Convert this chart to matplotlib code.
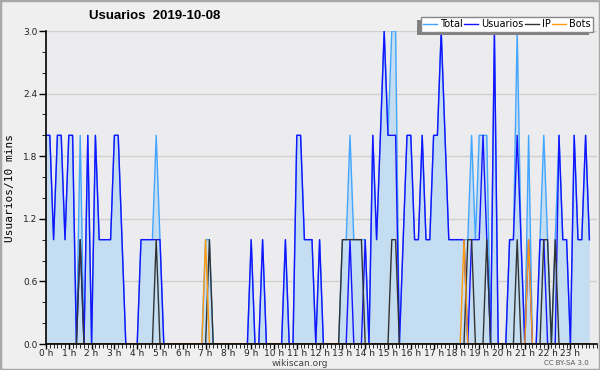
import matplotlib

matplotlib.use("Agg")

import matplotlib.pyplot as plt
from matplotlib.patches import Rectangle
from matplotlib.ticker import MultipleLocator

# one value per 10-minute slot, 144 slots for the day
usuarios = [
    2, 2, 1, 2, 2, 1, 2, 2, 0, 1, 0, 2, 0, 2, 1, 1, 1, 1, 2, 2, 1, 0, 0, 0,
    0, 1, 1, 1, 1, 1, 1, 0, 0, 0, 0, 0, 0, 0, 0, 0, 0, 0, 0, 0, 0, 0, 0, 0,
    0, 0, 0, 0, 0, 0, 1, 0, 0, 1, 0, 0, 0, 0, 0, 1, 0, 0, 2, 2, 1, 1, 1, 0,
    1, 0, 0, 0, 0, 0, 0, 0, 1, 0, 0, 0, 1, 0, 2, 1, 2, 3, 2, 2, 2, 0, 1, 2,
    2, 1, 1, 2, 1, 1, 2, 2, 3, 2, 1, 1, 1, 1, 1, 0, 1, 1, 1, 2, 1, 0, 3, 0,
    0, 0, 1, 1, 2, 1, 0, 1, 0, 0, 1, 1, 0, 0, 0, 2, 1, 1, 0, 2, 1, 1, 2, 1,
]
ip = [
    0, 0, 0, 0, 0, 0, 0, 0, 0, 1, 0, 0, 0, 0, 0, 0, 0, 0, 0, 0, 0, 0, 0, 0,
    0, 0, 0, 0, 0, 1, 0, 0, 0, 0, 0, 0, 0, 0, 0, 0, 0, 0, 0, 1, 0, 0, 0, 0,
    0, 0, 0, 0, 0, 0, 0, 0, 0, 0, 0, 0, 0, 0, 0, 0, 0, 0, 0, 0, 0, 0, 0, 0,
    0, 0, 0, 0, 0, 0, 1, 1, 1, 1, 1, 1, 0, 0, 0, 0, 0, 0, 0, 1, 1, 0, 0, 0,
    0, 0, 0, 0, 0, 0, 0, 0, 0, 0, 0, 0, 0, 0, 0, 1, 1, 0, 0, 0, 1, 0, 0, 0,
    0, 0, 0, 0, 1, 0, 0, 0, 0, 0, 0, 1, 1, 0, 1, 0, 0, 0, 0, 0, 0, 0, 0, 0,
]
bots = [
    0, 0, 0, 0, 0, 0, 0, 0, 0, 0, 0, 0, 0, 0, 0, 0, 0, 0, 0, 0, 0, 0, 0, 0,
    0, 0, 0, 0, 0, 0, 0, 0, 0, 0, 0, 0, 0, 0, 0, 0, 0, 0, 1, 0, 0, 0, 0, 0,
    0, 0, 0, 0, 0, 0, 0, 0, 0, 0, 0, 0, 0, 0, 0, 0, 0, 0, 0, 0, 0, 0, 0, 0,
    0, 0, 0, 0, 0, 0, 0, 0, 0, 0, 0, 0, 0, 0, 0, 0, 0, 0, 0, 0, 0, 0, 0, 0,
    0, 0, 0, 0, 0, 0, 0, 0, 0, 0, 0, 0, 0, 0, 1, 0, 0, 0, 0, 0, 0, 0, 0, 0,
    0, 0, 0, 0, 0, 0, 0, 1, 0, 0, 0, 0, 0, 0, 0, 0, 0, 0, 0, 0, 0, 0, 0, 0,
]
total = [
    2, 2, 1, 2, 2, 1, 2, 2, 0, 2, 0, 2, 0, 2, 1, 1, 1, 1, 2, 2, 1, 0, 0, 0,
    0, 1, 1, 1, 1, 2, 1, 0, 0, 0, 0, 0, 0, 0, 0, 0, 0, 0, 1, 1, 0, 0, 0, 0,
    0, 0, 0, 0, 0, 0, 1, 0, 0, 1, 0, 0, 0, 0, 0, 1, 0, 0, 2, 2, 1, 1, 1, 0,
    1, 0, 0, 0, 0, 0, 1, 1, 2, 1, 1, 1, 1, 0, 2, 1, 2, 3, 2, 3, 3, 0, 1, 2,
    2, 1, 1, 2, 1, 1, 2, 2, 3, 2, 1, 1, 1, 1, 1, 1, 2, 1, 2, 2, 2, 0, 3, 0,
    0, 0, 1, 1, 3, 1, 0, 2, 0, 0, 1, 2, 1, 0, 1, 2, 1, 1, 0, 2, 1, 1, 2, 1,
]
hour_labels = [f"{h} h" for h in range(24)]

TOTAL_COLOR = "#42a5ff"
FILL_COLOR = "#c5ddf1"
USER_COLOR = "#1414ff"
IP_COLOR = "#333333"
BOT_COLOR = "#ff9a10"


def main():
    slots = list(range(len(total)))

    fig = plt.figure(figsize=(6.0, 3.7), dpi=100, facecolor="#efefef")
    ax = fig.add_axes([46 / 600, 26 / 370, 551 / 600, 313 / 370])
    ax.set_facecolor("#ececee")

    ax.fill_between(slots, total, 0, color=FILL_COLOR, lw=0, zorder=1)
    ax.plot(slots, total, color=TOTAL_COLOR, lw=1.0, zorder=2, label="Total")
    ax.plot(slots, usuarios, color=USER_COLOR, lw=1.0, zorder=3, label="Usuarios")
    ax.plot(slots, ip, color=IP_COLOR, lw=1.0, zorder=4, label="IP")
    ax.plot(slots, bots, color=BOT_COLOR, lw=1.0, zorder=5, label="Bots")

    ax.set_xlim(0, 145)
    ax.set_ylim(0, 3.0)

    ax.yaxis.set_major_locator(MultipleLocator(0.6))
    ax.yaxis.set_minor_locator(MultipleLocator(0.2))
    ax.set_yticklabels([f"{v:.1f}" for v in ax.get_yticks()])
    ax.set_xticks(range(0, 144, 6))
    ax.set_xticklabels(hour_labels)
    ax.xaxis.set_minor_locator(MultipleLocator(1))

    ax.tick_params(axis="both", which="major", labelsize=6.5, colors="black",
                   labelcolor="#222222", width=1)
    ax.tick_params(axis="y", which="major", length=5, pad=1)
    ax.tick_params(axis="y", which="minor", length=3)
    ax.tick_params(axis="x", which="major", length=3.5, pad=0)
    ax.tick_params(axis="x", which="minor", length=3)

    ax.grid(axis="y", which="major", color="#cfcfcf", lw=1)
    ax.set_axisbelow(True)
    for side in ("top", "right"):
        ax.spines[side].set_visible(False)
    for side in ("left", "bottom"):
        ax.spines[side].set_linewidth(1.2)
        ax.spines[side].set_zorder(6)

    ax.set_ylabel("Usuarios/10 mins", family="DejaVu Sans Mono", fontsize=8)
    ax.yaxis.set_label_coords(-0.056, 0.5)

    fig.text(155 / 600, 1 - 16 / 370, "Usuarios  2019-10-08", ha="center",
             va="center", fontsize=9.5, fontweight="bold",
             family="Liberation Sans")
    fig.text(300 / 600, 1 - 363 / 370, "wikiscan.org", ha="center", va="center",
             fontsize=6.5, color="#444444")
    fig.text(589 / 600, 1 - 363 / 370, "CC BY-SA 3.0", ha="right", va="center",
             fontsize=5, color="#555555")

    leg = fig.legend(loc="upper right", bbox_to_anchor=(593 / 600, 1 - 17 / 370),
                     ncol=4, fontsize=7, frameon=True, fancybox=False,
                     borderpad=0.25, handlelength=1.4, handletextpad=0.3,
                     columnspacing=0.2, borderaxespad=0)
    leg.get_frame().set_edgecolor("#888888")
    leg.get_frame().set_linewidth(1.0)
    leg.get_frame().set_facecolor("white")
    leg.get_frame().set_alpha(1)

    # shadow sits down and to the left of the legend box
    fig.canvas.draw()
    box = leg.get_window_extent().transformed(fig.transFigure.inverted())
    shadow = Rectangle((box.x0 - 4 / 600, box.y0 - 3 / 370), box.width, box.height,
                       transform=fig.transFigure, facecolor="#808080",
                       edgecolor="none", zorder=leg.get_zorder() - 1)
    fig.patches.append(shadow)

    fig.patches.append(Rectangle((0, 0), 1, 1, transform=fig.transFigure,
                                 fill=False, edgecolor="#a8a8a8", lw=2.5))

    fig.savefig("out.png", dpi=100, facecolor=fig.get_facecolor())
    plt.close(fig)


if __name__ == "__main__":
    main()
